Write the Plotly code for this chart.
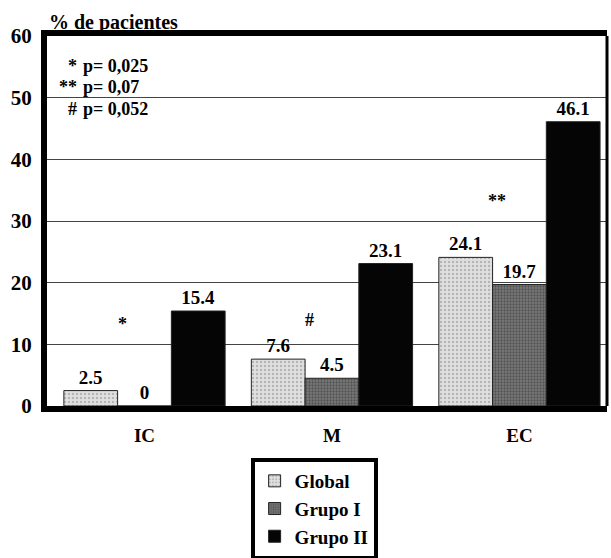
import plotly.graph_objects as go

categories = ["IC", "M", "EC"]
global_vals = [2.5, 7.6, 24.1]
grupo1_vals = [0, 4.5, 19.7]
grupo2_vals = [15.4, 23.1, 46.1]
series_names = ["Global", "Grupo I", "Grupo II"]
y_ticks = [0, 10, 20, 30, 40, 50, 60]
sig_marks = ["*", "#", "**"]
sig_heights = [13.3, 14.0, 33.3]
pvalue_symbols = ["*", "**", "#"]
pvalue_texts = ["p= 0,025", "p= 0,07", "p= 0,052"]

FONT = "Liberation Serif"

fig = go.Figure()
styles = [
    dict(color="#d8d8d8", pattern=dict(shape=".", fgcolor="#8a8a8a", bgcolor="#e0e0e0", size=4, solidity=0.3)),
    dict(color="#555555", pattern=dict(shape=".", fgcolor="#2a2a2a", bgcolor="#7a7a7a", size=3, solidity=0.45)),
    dict(color="#050505"),
]
for name, vals, st in zip(series_names, [global_vals, grupo1_vals, grupo2_vals], styles):
    fig.add_trace(go.Bar(
        x=categories, y=vals, name=name,
        marker=dict(line=dict(color="#222", width=1), **st),
        text=[f"{v:g}" for v in vals], textposition="outside",
        texttemplate="%{text}",
        textfont=dict(family=FONT, size=19, color="black", weight="bold"),
        cliponaxis=False,
    ))

for c, m, h in zip(categories, sig_marks, sig_heights):
    fig.add_annotation(x=c, y=h, text=m, showarrow=False, xshift=-22,
                       font=dict(family=FONT, size=18, color="black", weight="bold"))

pv_y = [0.919, 0.862, 0.803]
for s, t, yy in zip(pvalue_symbols, pvalue_texts, pv_y):
    fig.add_annotation(xref="paper", yref="paper", x=0.058, y=yy, text=s,
                       xanchor="right", yanchor="middle", showarrow=False,
                       font=dict(family=FONT, size=18, color="black", weight="bold"))
    fig.add_annotation(xref="paper", yref="paper", x=0.060, y=yy, text=t,
                       xanchor="left", yanchor="middle", showarrow=False,
                       font=dict(family=FONT, size=18, color="black", weight="bold"))

fig.add_annotation(xref="paper", yref="paper", x=0.0, y=1.0, text="% de pacientes",
                   xanchor="left", yanchor="bottom", showarrow=False, yshift=0,
                   font=dict(family=FONT, size=20, color="black", weight="bold"))

# thin right frame edge
fig.add_shape(type="line", xref="paper", yref="paper", x0=1, x1=1, y0=0, y1=1,
              line=dict(color="black", width=3))

fig.update_layout(
    width=611, height=558,
    margin=dict(l=47, r=4, t=36, b=152, autoexpand=False),
    paper_bgcolor="white", plot_bgcolor="white",
    barmode="group", bargap=0.14, bargroupgap=0,
    font=dict(family=FONT, color="black"),
    showlegend=True,
    legend=dict(x=0.477, y=-0.1405, xanchor="center", yanchor="top",
                bordercolor="black", borderwidth=4, bgcolor="white",
                font=dict(family=FONT, size=19, color="black", weight="bold"),
                tracegroupgap=0, itemwidth=30),
    xaxis=dict(range=[-0.52, 2.467], showline=True, linewidth=6, linecolor="black",
               mirror=True, ticks="", showgrid=False, ticklabelstandoff=7,
               tickfont=dict(family=FONT, size=19, color="black", weight="bold")),
    yaxis=dict(range=[0, 60], tickvals=y_ticks, showline=True, linewidth=6,
               linecolor="black", showgrid=True, gridcolor="#444", gridwidth=1,
               zeroline=False, ticks="", ticklabelstandoff=5,
               tickfont=dict(family=FONT, size=21, color="black", weight="bold")),
)
fig.write_html("out.html", config={"displayModeBar": False},
               post_script="document.body.style.margin='0';document.body.style.overflow='hidden';")
